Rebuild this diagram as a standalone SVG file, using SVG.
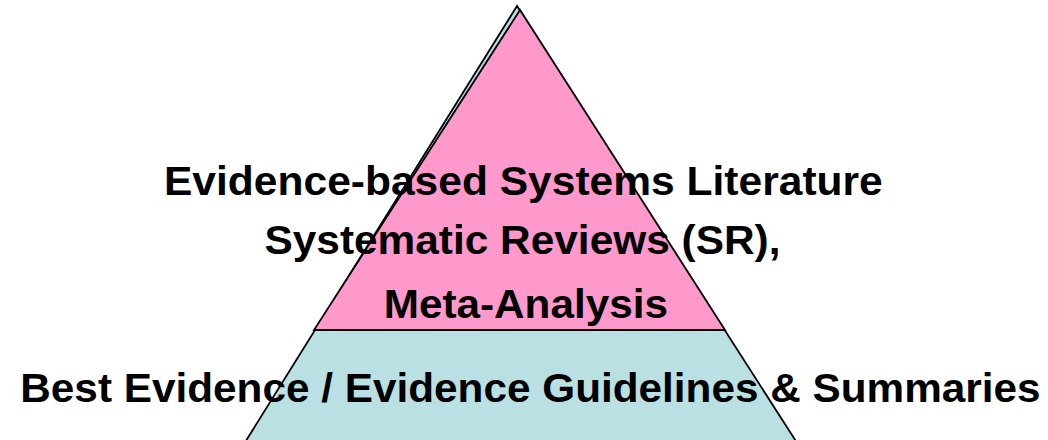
<svg xmlns="http://www.w3.org/2000/svg" width="1048" height="440" viewBox="0 0 1048 440">
  <style>
    .shape { stroke: #000; stroke-width: 1.8; stroke-linejoin: miter; }
    .base { fill: #BBE0E3; }
    .top { fill: #FF99CC; }
    .lbl { font-family: "Liberation Sans", Arial, sans-serif; font-weight: bold; font-size: 40px; fill: #000; }
  </style>
  <rect width="1048" height="440" fill="#fff"/>
  <g id="base-layer">
    <polygon class="shape base" points="517,6 234,460 808,460"/>
  </g>
  <g id="top-layer">
    <polygon class="shape top" points="520,10 314,330 725,330"/>
  </g>
  <g id="labels">
    <text class="lbl" transform="translate(164,195) scale(1.064,1)">Evidence-based Systems Literature</text>
    <text class="lbl" transform="translate(264.5,254) scale(1.06,1)">Systematic Reviews (SR),</text>
    <text class="lbl" transform="translate(383.7,318) scale(1.057,1)">Meta-Analysis</text>
    <text class="lbl" transform="translate(20.3,401.5) scale(1.058,1)">Best Evidence / Evidence Guidelines &amp; Summaries</text>
  </g>
</svg>
